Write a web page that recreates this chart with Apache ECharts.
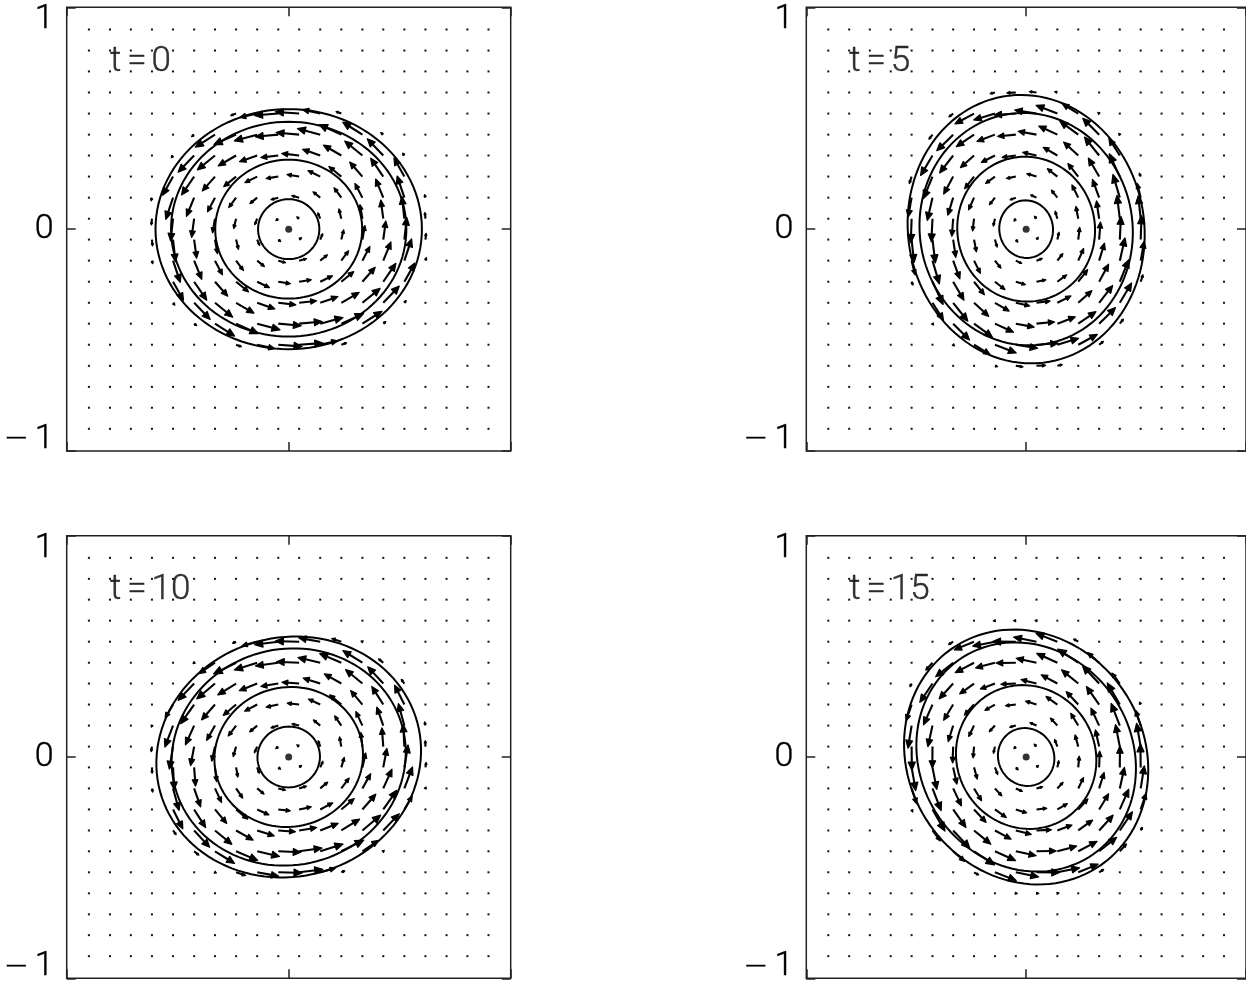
<!DOCTYPE html>
<html>
<head>
<meta charset="utf-8">
<script src="https://cdn.jsdelivr.net/npm/echarts@6/dist/echarts.min.js"></script>
<style>
html,body{margin:0;padding:0;background:#fff;}
#chart{width:1246px;height:984px;}
</style>
</head>
<body>
<div id="chart"></div>
<script>
// ---------------- data ----------------
const panelLabels = ['t=0', 't=5', 't=10', 't=15'];
const yTickValues = [-1, 0, 1];
const xTickValues = [-1, 0, 1];
// positions of the 20 x 20 vector grid (same on both axes)
const gridPos = [-0.900, -0.805, -0.711, -0.616, -0.521, -0.426, -0.332, -0.237, -0.142, -0.047,
                  0.047,  0.142,  0.237,  0.332,  0.426,  0.521,  0.616,  0.711,  0.805,  0.900];
// arrow length (data units) against normalised elliptic radius, read from the arrows
const profileRho   = [0, 0.10, 0.20, 0.30, 0.40, 0.50, 0.60, 0.70, 0.80, 0.90, 0.97, 1.00, 1.03, 1.07, 1.12];
const profileSpeed = [0, 0.012, 0.024, 0.036, 0.047, 0.060, 0.073, 0.087, 0.100, 0.108, 0.102, 0.068, 0.030, 0.010, 0];
// orientation (deg) of the contours' long axis in each panel
const contourRotation = [0, 100, 15, 125];
// semi-axes of the four contours (inner -> outer), per panel
const contourA_t0  = [0.138, 0.331, 0.530, 0.600];
const contourB_t0  = [0.135, 0.313, 0.484, 0.541];
const contourA_t5  = [0.130, 0.327, 0.525, 0.607];
const contourB_t5  = [0.122, 0.313, 0.484, 0.537];
const contourA_t10 = [0.141, 0.336, 0.530, 0.600];
const contourB_t10 = [0.137, 0.315, 0.488, 0.540];
const contourA_t15 = [0.133, 0.330, 0.535, 0.595];
const contourB_t15 = [0.126, 0.314, 0.481, 0.535];
const contourA = [contourA_t0, contourA_t5, contourA_t10, contourA_t15];
const contourB = [contourB_t0, contourB_t5, contourB_t10, contourB_t15];
const labelPos = [-0.805, 0.754];

// ---------------- layout ----------------
const FONT = 'Roboto';
const panelBoxes = [
  {left: 66.7,  top: 7.3},
  {left: 806.3, top: 7.3},
  {left: 66.7,  top: 535.7},
  {left: 806.3, top: 535.7}
];
const PW = 444, PH = 443.7;

function speedAt(r) {
  if (r >= profileRho[profileRho.length - 1]) return 0;
  for (let k = 1; k < profileRho.length; k++) {
    if (r <= profileRho[k]) {
      const f = (r - profileRho[k - 1]) / (profileRho[k] - profileRho[k - 1]);
      return profileSpeed[k - 1] + f * (profileSpeed[k] - profileSpeed[k - 1]);
    }
  }
  return 0;
}

function fieldData(p) {
  const A = contourA[p][3], B = contourB[p][3];
  const phi = contourRotation[p] * Math.PI / 180;
  const c = Math.cos(phi), s = Math.sin(phi);
  const h = Math.sqrt(A * B);
  const out = [];
  gridPos.forEach(function (y) {
    gridPos.forEach(function (x) {
      const xr = x * c + y * s, yr = -x * s + y * c;
      const rho = Math.sqrt((xr / A) * (xr / A) + (yr / B) * (yr / B));
      let u = 0, v = 0;
      const sp = speedAt(rho);
      if (sp > 0 && rho > 0) {
        const tx = -yr * A / B / (rho * h), ty = xr * B / A / (rho * h);
        const ur = sp * tx, vr = sp * ty;
        u = ur * c - vr * s;
        v = ur * s + vr * c;
      }
      out.push([x, y, u, v]);
    });
  });
  return out;
}

function contourData(p) {
  return contourA[p].map(function (a, k) { return [a, contourB[p][k], contourRotation[p]]; });
}

function renderArrow(params, api) {
  const x = api.value(0), y = api.value(1), u = api.value(2), v = api.value(3);
  const p0 = api.coord([x, y]);
  const p1 = api.coord([x + u, y + v]);
  const dx = p1[0] - p0[0], dy = p1[1] - p0[1];
  const L = Math.sqrt(dx * dx + dy * dy);
  if (L < 1.3) {
    return {type: 'rect', shape: {x: p0[0] - 1, y: p0[1] - 1, width: 2, height: 2},
            style: {fill: '#111'}};
  }
  const ux = dx / L, uy = dy / L;
  const hl = Math.max(0.34 * L, 2), hw = Math.max(0.15 * L, 1);
  const bx = p1[0] - ux * hl, by = p1[1] - uy * hl;
  return {
    type: 'group',
    children: [
      {type: 'line', shape: {x1: p0[0], y1: p0[1], x2: bx + ux * hl * 0.4, y2: by + uy * hl * 0.4},
       style: {stroke: '#000', lineWidth: 2.1}},
      {type: 'polygon', shape: {points: [[p1[0], p1[1]], [bx - uy * hw, by + ux * hw], [bx + uy * hw, by - ux * hw]]},
       style: {fill: '#000', stroke: '#000', lineWidth: 1.2, lineJoin: 'round'}}
    ]
  };
}

function renderContour(params, api) {
  const a = api.value(0), b = api.value(1), phi = api.value(2) * Math.PI / 180;
  const c = Math.cos(phi), s = Math.sin(phi);
  const pts = [];
  const N = 120;
  for (let k = 0; k < N; k++) {
    const t = 2 * Math.PI * k / N;
    const ex = a * Math.cos(t), ey = b * Math.sin(t);
    pts.push(api.coord([ex * c - ey * s, ex * s + ey * c]));
  }
  return {type: 'polygon', shape: {points: pts},
          style: {fill: 'none', stroke: '#000', lineWidth: 2}};
}

const grids = [], xAxes = [], yAxes = [], series = [];
const tickStyle = {inside: true, length: 9, lineStyle: {color: '#222', width: 1.5}};
const noLine = {show: false, onZero: false};
const labStyle = {fontFamily: FONT, fontWeight: 300, fontSize: 34, color: '#000',
                  textBorderColor: '#000', textBorderWidth: 0.4};

panelBoxes.forEach(function (b, i) {
  grids.push({left: b.left, top: b.top, width: PW, height: PH, show: true,
              borderColor: '#222', borderWidth: 1.5, backgroundColor: 'transparent'});
  ['bottom', 'top'].forEach(function (pos) {
    xAxes.push({gridIndex: i, type: 'value', position: pos, min: xTickValues[0], max: xTickValues[2], interval: 1,
                axisLine: noLine, splitLine: {show: false}, axisTick: tickStyle,
                axisLabel: {show: false}});
  });
  yAxes.push({gridIndex: i, type: 'value', position: 'left', min: yTickValues[0], max: yTickValues[2], interval: 1,
              axisLine: noLine, splitLine: {show: false}, axisTick: tickStyle,
              axisLabel: {show: true, margin: 13,
                formatter: function (v) {
                  if (v === 1) return '{top|1}';
                  if (v === -1) return '{neg|\u2212}{bot|1}';
                  return '{mid|0}';
                },
                rich: {
                  top: Object.assign({}, labStyle, {padding: [25, 0, 0, 0]}),
                  bot: Object.assign({}, labStyle, {padding: [0, 0, 23, 0]}),
                  neg: Object.assign({}, labStyle, {fontFamily: 'DejaVu Sans', fontWeight: 200, fontSize: 30, padding: [0, 6, 23, 0]}),
                  mid: Object.assign({}, labStyle)
                }}});
  yAxes.push({gridIndex: i, type: 'value', position: 'right', min: yTickValues[0], max: yTickValues[2], interval: 1,
              axisLine: noLine, splitLine: {show: false}, axisTick: tickStyle,
              axisLabel: {show: false}});

  series.push({type: 'custom', xAxisIndex: 2 * i, yAxisIndex: 2 * i, renderItem: renderArrow,
               data: fieldData(i), silent: true, animation: false, z: 2});
  series.push({type: 'custom', xAxisIndex: 2 * i, yAxisIndex: 2 * i, renderItem: renderContour,
               data: contourData(i), silent: true, animation: false, z: 3});
  series.push({type: 'scatter', xAxisIndex: 2 * i, yAxisIndex: 2 * i, data: [[0, 0]],
               symbol: 'circle', symbolSize: 7, itemStyle: {color: '#000'}, silent: true, animation: false, z: 4});
  const parts = panelLabels[i].split('=');
  series.push({type: 'scatter', xAxisIndex: 2 * i, yAxisIndex: 2 * i, data: [labelPos],
               symbolSize: 0, silent: true, animation: false, z: 5,
               label: {show: true, position: 'right', distance: 0,
                 formatter: '{t|' + parts[0] + '}{e|=}{n|' + parts[1] + '}',
                 rich: {
                   t: Object.assign({}, labStyle, {fontSize: 35, padding: [0, 6, 0, 0]}),
                   e: Object.assign({}, labStyle, {fontSize: 35, padding: [0, 5, 0, 0]}),
                   n: Object.assign({}, labStyle, {fontSize: 35})
                 }}});
});

const chart = echarts.init(document.getElementById('chart'), null, {renderer: 'canvas'});
chart.setOption({
  backgroundColor: '#fff',
  animation: false,
  grid: grids,
  xAxis: xAxes,
  yAxis: yAxes,
  series: series
});
</script>
</body>
</html>
